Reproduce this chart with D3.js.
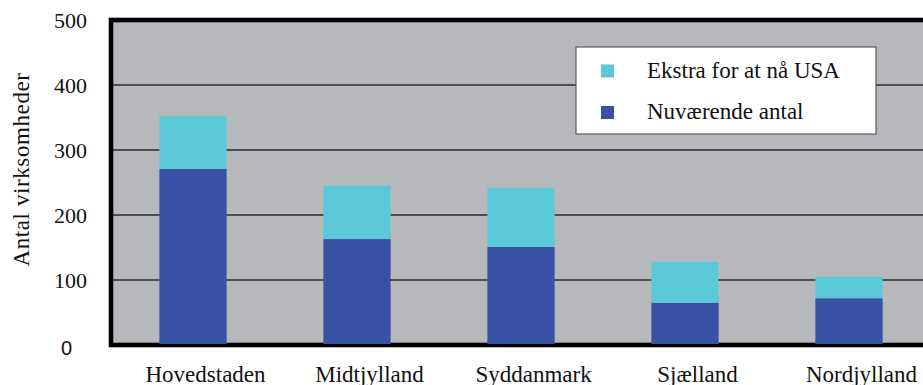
<!DOCTYPE html>
<html>
<head>
<meta charset="utf-8">
<script src="https://cdn.jsdelivr.net/npm/d3@7"></script>
<style>
  html, body { margin: 0; padding: 0; background: #ffffff; overflow: hidden; }
  svg { display: block; }
  .serif { font-family: "Liberation Serif", "Times New Roman", "DejaVu Serif", "Noto Serif", serif; }
  .sans { font-family: "Liberation Sans", Arial, "DejaVu Sans", sans-serif; }
</style>
</head>
<body>
<svg id="chart" width="923" height="385"></svg>
<script>
// Regions and firm counts
const regions = ["Hovedstaden", "Midtjylland", "Syddanmark", "Sjælland", "Nordjylland"];
const currentCount = [271, 163, 151, 65, 72];   // Nuværende antal
const extraToUSA = [81, 82, 91, 63, 33];        // Ekstra for at nå USA
const yTicks = [0, 100, 200, 300, 400, 500];
const seriesNames = ["Ekstra for at nå USA", "Nuværende antal"];
const seriesColors = ["#5bc8d8", "#3752a4"];

const svg = d3.select("#chart");

const x = d3.scaleBand()
  .domain(regions)
  .range([111, 931])
  .paddingInner(0.59)
  .paddingOuter(0.295);

const y = d3.scaleLinear().domain([0, 500]).range([345, 20]);

const rows = regions.map((r, i) => ({ region: r, current: currentCount[i], extra: extraToUSA[i] }));
const stacked = d3.stack().keys(["current", "extra"])(rows);
const colorOf = { current: seriesColors[1], extra: seriesColors[0] };

// Plot background
svg.append("rect")
  .attr("x", x.range()[0]).attr("y", y(500))
  .attr("width", x.range()[1] - x.range()[0])
  .attr("height", y(0) - y(500))
  .attr("fill", "#b7b8bc");

// Horizontal gridlines
svg.append("g")
  .selectAll("line")
  .data(yTicks.filter(t => t > 0 && t < 500))
  .join("line")
  .attr("x1", x.range()[0]).attr("x2", x.range()[1])
  .attr("y1", d => y(d)).attr("y2", d => y(d))
  .attr("stroke", "#2b2b2d")
  .attr("stroke-width", 1.6);

// Legend box (sits over the gridlines)
const legend = svg.append("g");
legend.append("rect")
  .attr("x", 576).attr("y", 47).attr("width", 300).attr("height", 87)
  .attr("fill", "#ffffff").attr("stroke", "#5a5a5c").attr("stroke-width", 1.2);
seriesNames.forEach((name, i) => {
  const cy = 71 + i * 41.5;
  legend.append("rect")
    .attr("x", 601).attr("y", cy - 6.5).attr("width", 13).attr("height", 13)
    .attr("fill", seriesColors[i]);
  legend.append("text")
    .attr("class", "serif")
    .attr("x", 647).attr("y", cy + 6.8)
    .style("font-size", "23px")
    .attr("fill", "#111")
    .text(name);
});

// Frame
svg.append("rect")
  .attr("x", x.range()[0]).attr("y", y(500))
  .attr("width", x.range()[1] - x.range()[0])
  .attr("height", y(0) - y(500))
  .attr("fill", "none")
  .attr("stroke", "#000").attr("stroke-width", 4.6);

// Stacked bars
svg.append("g")
  .selectAll("g")
  .data(stacked)
  .join("g")
  .attr("fill", d => colorOf[d.key])
  .selectAll("rect")
  .data(d => d)
  .join("rect")
  .attr("x", d => x(d.data.region))
  .attr("width", x.bandwidth())
  .attr("y", d => y(d[1]))
  .attr("height", d => y(d[0]) - y(d[1]) - (d[0] === 0 ? 1 : 0));

// Y axis labels
const yAxis = svg.append("g")
  .attr("transform", "translate(87,0)")
  .call(d3.axisLeft(y).tickValues(yTicks).tickSize(0).tickPadding(0).tickFormat(d3.format("d")));
yAxis.attr("font-family", null).attr("font-size", null);
yAxis.select(".domain").remove();
yAxis.selectAll("text")
  .attr("class", "serif")
  .style("font-size", "22px").attr("fill", "#111")
  .attr("dy", "0.34em");
yAxis.selectAll(".tick").filter(d => d === 0).select("text")
  .attr("class", "sans")
  .style("font-size", "20px").attr("x", -15).attr("dy", "0.45em");

// X axis labels
const xAxis = svg.append("g")
  .attr("transform", "translate(12.5,0)")
  .call(d3.axisBottom(x).tickSize(0).tickPadding(0));
xAxis.attr("font-family", null).attr("font-size", null);
xAxis.select(".domain").remove();
xAxis.selectAll("text")
  .attr("class", "serif")
  .attr("y", 382).attr("dy", 0)
  .style("font-size", "23px").attr("fill", "#111");

// Y axis title
svg.append("text")
  .attr("class", "serif")
  .attr("transform", "translate(28.5,169.5) rotate(-90)")
  .attr("text-anchor", "middle")
  .style("font-size", "23px").style("letter-spacing", "0.6px")
  .attr("fill", "#111")
  .text("Antal virksomheder");
</script>
</body>
</html>
